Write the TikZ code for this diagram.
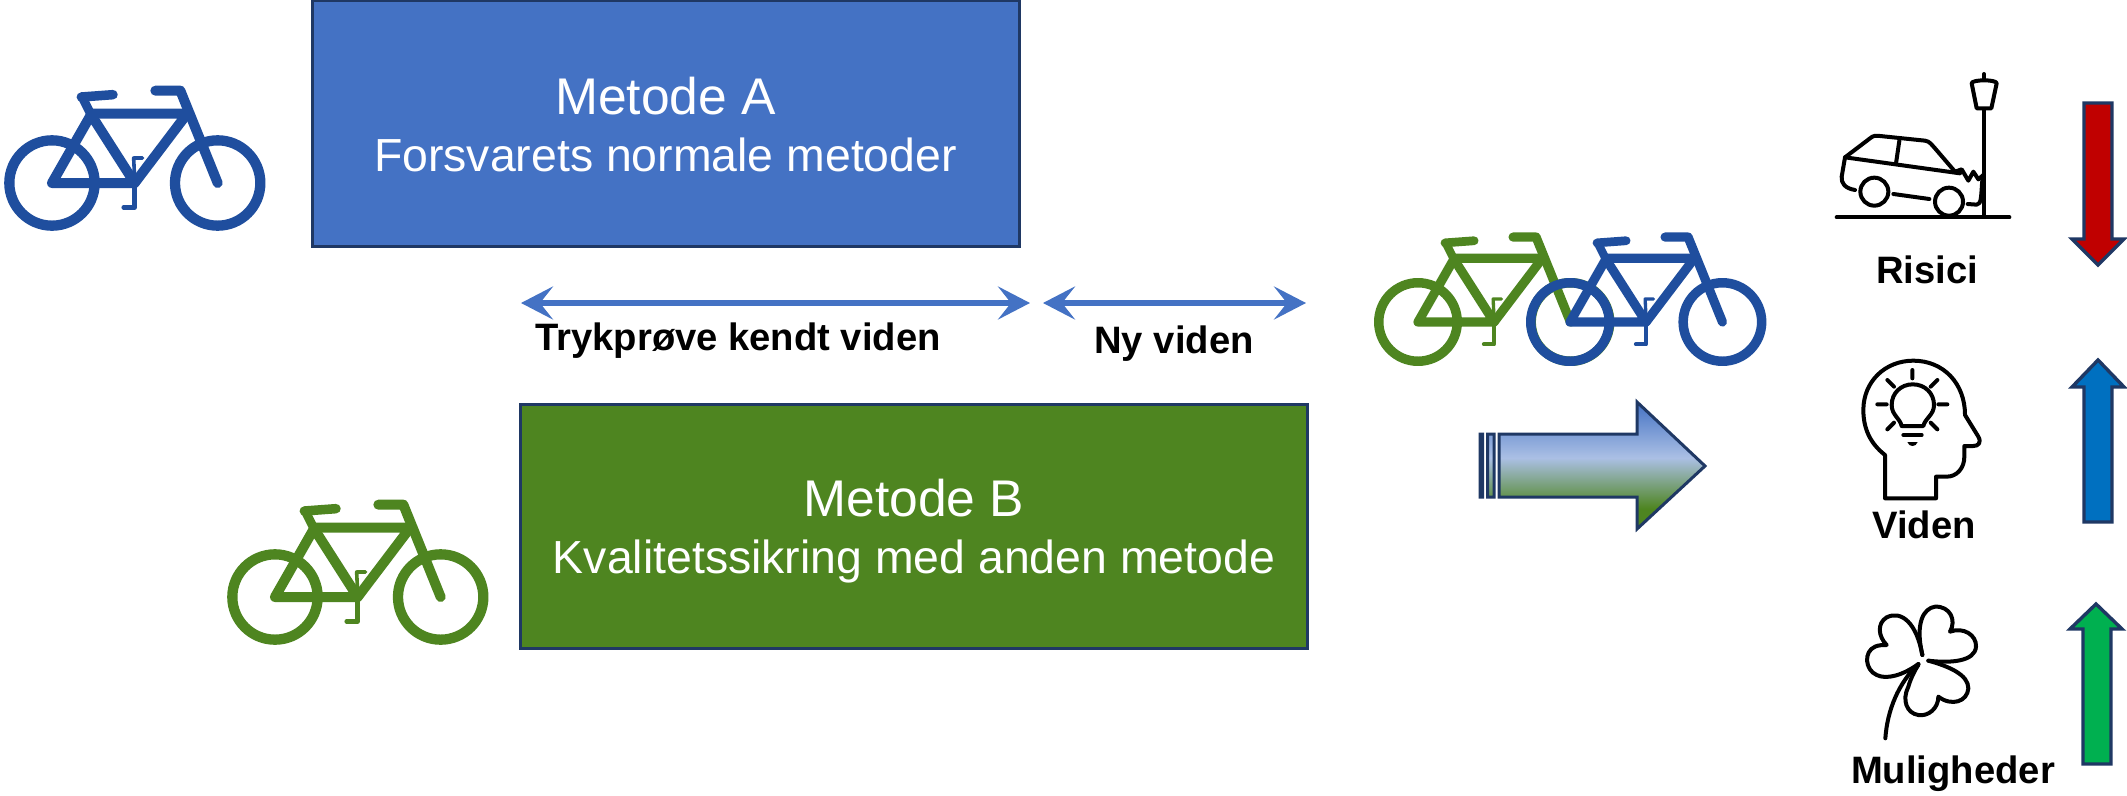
\documentclass[tikz,border=0pt]{standalone}
\usepackage{fontspec}
\setmainfont{Liberation Sans}
\usetikzlibrary{arrows.meta}
\definecolor{navy}{HTML}{1F3864}
\definecolor{bikeblue}{HTML}{1F4E9E}
\definecolor{bikegreen}{HTML}{4E8520}
\definecolor{boxblue}{HTML}{4472C4}
\definecolor{boxgreen}{HTML}{4E8520}
\definecolor{riskred}{HTML}{C00000}
\definecolor{upblue}{HTML}{0070C0}
\definecolor{upgreen}{HTML}{00B050}
\pgfdeclareverticalshading{bluegreen}{100bp}{
  color(0bp)=(boxgreen); color(25bp)=(boxgreen); color(33bp)=(boxgreen);
  color(53bp)=(boxblue!45!white); color(75bp)=(boxblue); color(100bp)=(boxblue)}
\tikzset{
  methodbox/.style={draw=navy,line width=3pt,inner sep=0pt},
  methodtext/.style={text=white,align=center,inner sep=0pt,font=\fontsize{46.4}{57}\selectfont},
  bigarrow/.style={draw=navy,line width=3.4pt,line join=miter},
  spanarrow/.style={{Stealth[length=32pt,width=33pt,inset=13pt]}-{Stealth[length=32pt,width=33pt,inset=13pt]},draw=boxblue,line width=5.5pt},
  boldlabel/.style={font=\fontsize{38.2}{42}\selectfont\bfseries,text=black,inner sep=0pt,anchor=center},
  icon/.style={draw=black,line width=4pt,line cap=round,line join=round},
}
\newcommand\boxtext[2]{{\fontsize{51.6}{57}\selectfont #1}\\#2}
\newcommand\bikeicon[4]{%
  \begin{scope}[shift={(#1,#2)},scale=#3/3,draw=#4,line cap=round,line join=round]
    \draw[line width=#3*10.3pt] (0,0) circle (128) (497,0) circle (128);
    \draw[line width=#3*10pt] (0,0) -- (117,-205) -- (248,0) -- cycle;
    \draw[line width=#3*10pt] (117,-208) -- (395,-208) (248,0) -- (398,-198);
    \draw[line width=#3*10pt] (310,-277) -- (385,-277) -- (497,0);
    \draw[line width=#3*9pt] (117,-205) -- (92,-255);
    \draw[line width=#3*9.5pt] (88,-258) -- (183,-265);
    \draw[line width=#3*4.5pt] (248,0) -- (248,73) -- (215,73);
    \draw[line width=#3*3.6pt] (248,-10) -- (245,-75) -- (272,-75);
  \end{scope}}
\begin{document}
\begin{tikzpicture}[x=1pt,y=-1pt]
\useasboundingbox (0,0) rectangle (2127,795);
\fill[white] (0,0) rectangle (2127,795);

% boxes
\node[methodbox,fill=boxblue,minimum width=707pt,minimum height=246pt] (boxA) at (665.5,123) {};
\node[methodtext] (txtA) at (665.5,125) {\boxtext{Metode A}{Forsvarets normale metoder}};
\node[methodbox,fill=boxgreen,minimum width=787pt,minimum height=244pt] (boxB) at (914,526) {};
\node[methodtext] (txtB) at (914,531) {\boxtext{Metode B}{Kvalitetssikring med anden metode}};

% bikes
\bikeicon{52}{183}{1}{bikeblue}
\bikeicon{275}{597}{1}{bikegreen}
\bikeicon{1418}{322}{0.92}{bikegreen}
\bikeicon{1570}{322}{0.92}{bikeblue}

% span arrows
\coordinate (knownL) at (521,303);
\coordinate (knownR) at (1030,303);
\coordinate (newL) at (1043,303);
\coordinate (newR) at (1306,303);
\draw[spanarrow] (knownL) -- (knownR);
\draw[spanarrow] (newL) -- (newR);
\node[boldlabel] (lblKnown) at (738,341) {Trykprøve kendt viden};
\node[boldlabel] (lblNew) at (1174,344) {Ny viden};

% gradient arrow
\draw[bigarrow,line width=3pt,shading=bluegreen]
  (1499,434) -- (1637,434) -- (1637,402) -- (1705,466) -- (1637,529) -- (1637,497) -- (1499,497) -- cycle
  (1487.5,434) rectangle (1494,497)
  (1480,434) rectangle (1482.7,497);

% risk arrows
\draw[bigarrow,fill=riskred] (2084,103) -- (2112,103) -- (2112,239) -- (2124,239) -- (2098,265) -- (2072,239) -- (2084,239) -- cycle;
\draw[bigarrow,fill=upblue] (2084,522) -- (2112,522) -- (2112,387) -- (2124,387) -- (2098,360) -- (2072,387) -- (2084,387) -- cycle;
\draw[bigarrow,fill=upgreen] (2083,764) -- (2111,764) -- (2111,629) -- (2122,629) -- (2096,604) -- (2070,629) -- (2083,629) -- cycle;

% car icon
\begin{scope}[shift={(1780,50)},scale=1/3,icon]
  \draw (170,502) -- (688,502);
  \draw (612,178) -- (612,500);
  \draw (590,175) -- (634,175) -- (650,100) .. controls (650,88) and (575,88) .. (575,100) -- cycle;
  \draw (612,72) -- (612,86);
  \draw (225,420) .. controls (195,415) and (183,400) .. (185,380) -- (195,322) -- (270,265) .. controls (280,256) and (290,256) .. (300,258) -- (435,272) .. controls (450,274) and (455,285) .. (465,295) -- (525,365);
  \draw (195,322) -- (540,370);
  \draw (358,272) -- (348,340);
  \draw (283,425) circle (42);
  \draw (507,455) circle (42);
  \draw (340,432) -- (448,447);
  \draw (525,365) -- (545,358) -- (565,392) -- (580,365) -- (595,388) -- (610,375);
  \draw (563,462) -- (590,464) .. controls (605,464) and (603,435) .. (607,390);
\end{scope}

% head icon
\begin{scope}[shift={(1780,340)},scale=1/3,icon]
  \draw (315,475) -- (315,345) .. controls (270,310) and (250,265) .. (250,210)
     .. controls (250,125) and (315,62) .. (400,62)
     .. controls (490,62) and (555,130) .. (555,225)
     -- (595,290) .. controls (605,308) and (595,318) .. (580,318) -- (553,318) -- (553,350)
     .. controls (553,385) and (530,410) .. (500,410) -- (468,410) -- (468,475) -- cycle;
  \draw (365,258) -- (430,258) .. controls (435,235) and (462,225) .. (462,195)
     .. controls (462,160) and (435,133) .. (398,133)
     .. controls (362,133) and (335,160) .. (335,195)
     .. controls (335,225) and (360,235) .. (365,258);
  \draw (370,285) -- (425,285);
  \fill (382,306) -- (413,306) .. controls (408,322) and (387,322) .. (382,306) -- cycle;
  \draw (397,90) -- (397,115) (322,120) -- (342,140) (472,120) -- (452,140)
        (292,193) -- (320,193) (475,193) -- (502,193)
        (322,268) -- (342,248) (472,268) -- (452,248);
\end{scope}

% clover icon
\begin{scope}[shift={(1780,580)},scale=1/3,icon]
  \draw (316,475) .. controls (322,390) and (355,310) .. (415,252);
  \draw (415,252) .. controls (370,285) and (320,300) .. (290,285)
     .. controls (255,270) and (250,215) .. (285,200) .. controls (295,195) and (310,195) .. (320,195)
     .. controls (295,170) and (290,130) .. (320,112) .. controls (365,90) and (410,130) .. (427,225);
  \draw (427,225) .. controls (405,130) and (430,85) .. (465,80) .. controls (510,78) and (530,120) .. (510,155)
     .. controls (550,140) and (590,165) .. (588,200) .. controls (585,245) and (510,250) .. (445,242);
  \draw (445,242) .. controls (510,260) and (565,285) .. (565,325) .. controls (562,365) and (515,380) .. (475,350)
     .. controls (475,385) and (445,410) .. (415,405) .. controls (380,400) and (365,360) .. (385,320) .. controls (392,295) and (405,270) .. (415,255);
\end{scope}

\node[boldlabel] (lblRisici) at (1927,270) {Risici};
\node[boldlabel] (lblViden) at (1924,525) {Viden};
\node[boldlabel] (lblMulig) at (1953,774) {Muligheder};
\end{tikzpicture}
\end{document}
